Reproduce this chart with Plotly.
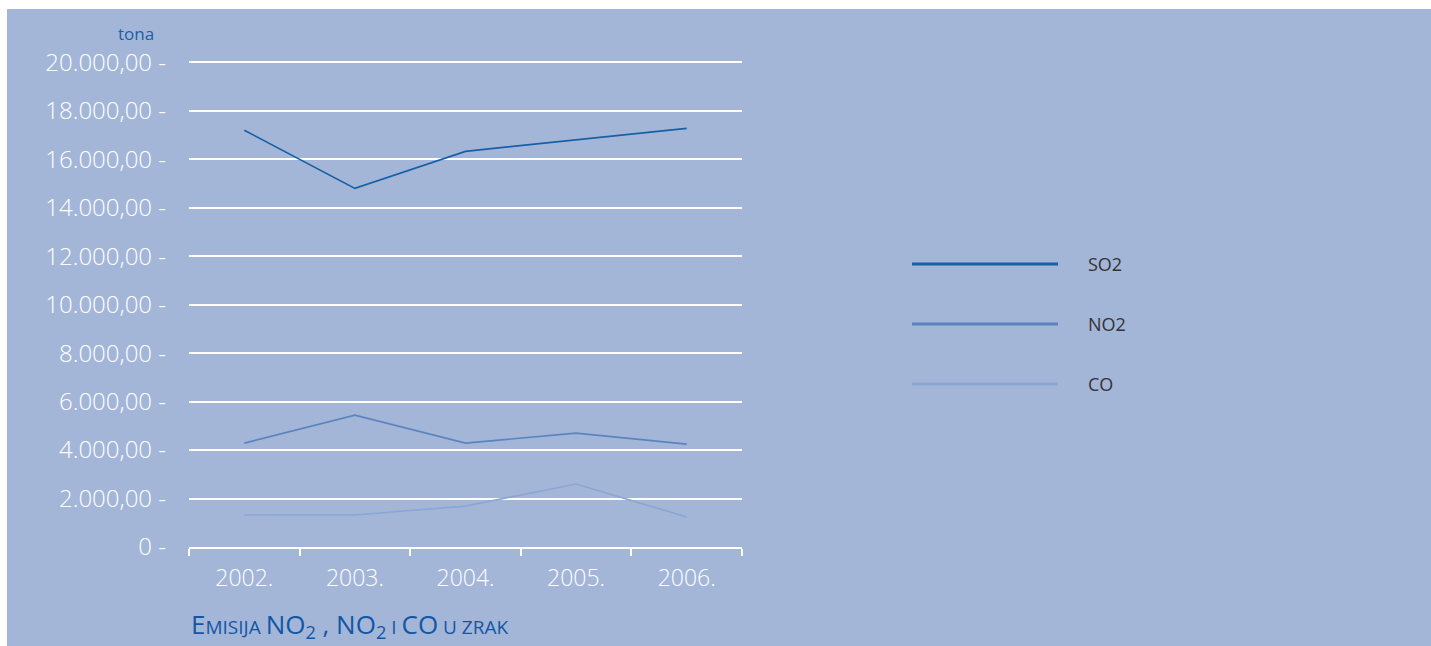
import plotly.graph_objects as go

years = ["2002.", "2003.", "2004.", "2005.", "2006."]
so2 = [17200, 14800, 16330, 16800, 17280]
no2 = [4290, 5440, 4290, 4700, 4250]
co = [1320, 1320, 1690, 2600, 1240]
series_names = ["SO2", "NO2", "CO"]
series_colors = ["#1660a6", "#5a84bf", "#8ba6d3"]
y_ticks = [0, 2000, 4000, 6000, 8000, 10000, 12000, 14000, 16000, 18000, 20000]
y_labels = ["0 -", "2.000,00 -", "4.000,00 -", "6.000,00 -", "8.000,00 -", "10.000,00 -",
            "12.000,00 -", "14.000,00 -", "16.000,00 -", "18.000,00 -", "20.000,00 -"]

W, H = 1431, 646
L, R, T, B = 189, 742, 60, 547

def px(x):
    return (x - L) / (R - L)

def py(y):
    return (B - y) / (B - T)

fig = go.Figure()
for name, vals, col in zip(series_names, [so2, no2, co], series_colors):
    fig.add_trace(go.Scatter(x=years, y=vals, mode="lines", name=name,
                             line=dict(color=col, width=1.7), showlegend=False))

BG = "#a4b6d8"
font = "Open Sans"
fig.update_layout(
    width=W, height=H,
    margin=dict(l=L, r=W - R, t=T, b=H - B, pad=0),
    paper_bgcolor=BG, plot_bgcolor=BG,
    xaxis=dict(type="category", showgrid=False, zeroline=False,
               showline=True, linecolor="white", linewidth=1.5,
               ticks="outside", tickson="boundaries", ticklen=7, tickwidth=1.5,
               tickcolor="white", ticklabelstandoff=10,
               tickfont=dict(family=font, size=23, color="white", weight=300),
               range=[-0.5, 4.5]),
    yaxis=dict(range=[0, 20100], tickvals=y_ticks, ticktext=y_labels,
               showgrid=True, gridcolor="white", gridwidth=2, zeroline=False,
               showline=False, ticks="", ticklabelstandoff=22,
               tickfont=dict(family=font, size=24, color="white", weight=300)),
)

shapes = [
    dict(type="rect", xref="paper", yref="paper", x0=px(0), x1=px(7), y0=py(H), y1=py(0),
         fillcolor="white", line=dict(width=0), layer="above"),
    dict(type="rect", xref="paper", yref="paper", x0=px(0), x1=px(W), y0=py(9), y1=py(0),
         fillcolor="white", line=dict(width=0), layer="above"),
]
legend_y = [264, 324, 384]
annotations = []
for name, col, ly in zip(series_names, series_colors, legend_y):
    shapes.append(dict(type="line", xref="paper", yref="paper", x0=px(912), x1=px(1058),
                       y0=py(ly), y1=py(ly), line=dict(color=col, width=3)))
    annotations.append(dict(xref="paper", yref="paper", x=px(1086), y=py(ly), text=name,
                            xanchor="left", yanchor="middle", showarrow=False,
                            font=dict(family=font, size=18, color="#333333")))

annotations.append(dict(xref="paper", yref="paper", x=px(156), y=py(33), text="tona",
                        xanchor="right", yanchor="middle", showarrow=False,
                        font=dict(family=font, size=17, color="#1a5fa8")))
title = ("<span style='font-size:26px'>E</span>MISIJA "
         "<span style='font-size:26px'>NO<sub>2</sub> , NO<sub>2</sub></span> I "
         "<span style='font-size:26px'>CO</span> U ZRAK")
annotations.append(dict(xref="paper", yref="paper", x=px(189), y=py(625), text=title,
                        xanchor="left", yanchor="middle", showarrow=False,
                        font=dict(family=font, size=19, color="#1256a6")))
fig.update_layout(shapes=shapes, annotations=annotations)

fig.write_html("out.html", config={"displayModeBar": False},
               post_script="document.body.style.margin='0';")
